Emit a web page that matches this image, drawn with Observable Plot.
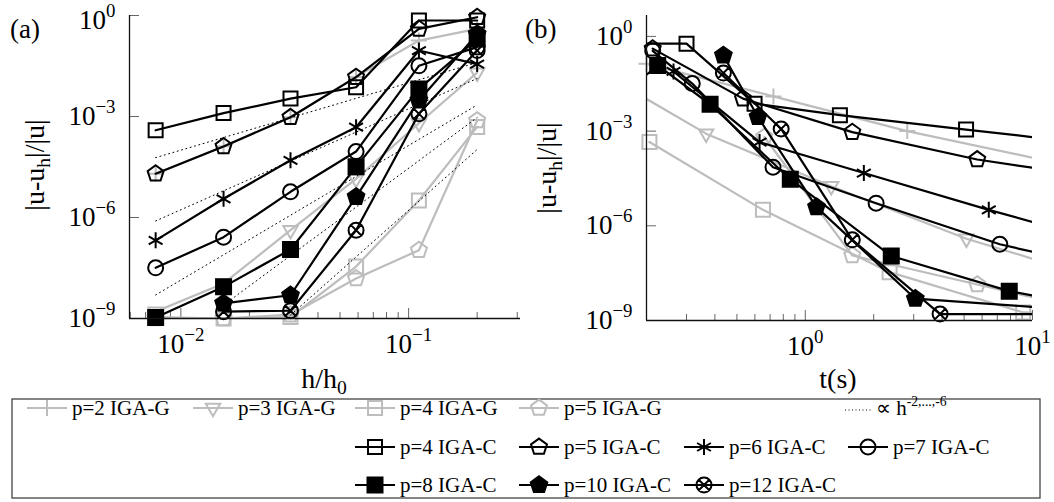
<!DOCTYPE html>
<html><head><meta charset="utf-8">
<script src="https://cdn.jsdelivr.net/npm/d3@7"></script>
<script src="https://cdn.jsdelivr.net/npm/@observablehq/plot@0.6"></script>
<style>
body{margin:0;background:#fff;}
#wrap{position:relative;width:1054px;height:502px;overflow:hidden;font-family:"Liberation Serif","Times New Roman",serif;background:#fff;}
#wrap svg{position:absolute;max-width:none;overflow:visible;}
#wrap svg text{font-family:"Liberation Serif","Times New Roman",serif;}
</style></head><body><div id="wrap"></div>
<script>
// ---------- data: panel (a), error vs h/h0 ----------
const hA   = [0.00775, 0.0154, 0.0303, 0.0588, 0.111, 0.2];
const hA2  = [0.0154, 0.0303, 0.0588, 0.111, 0.2];
const aG2  = [2.0e-5, 1.3e-4, 9.5e-4, 1.5e-2, 0.18, 0.40];
const aG3  = [1.6e-9, 1.1e-8, 4.2e-7, 1.4e-5, 6.3e-4, 0.02];
const aG4  = [1.1e-9, 1.0e-9, 1.1e-9, 3.5e-8, 3.2e-6, 4.9e-4];
const aG5  = [1.0e-9, 1.0e-9, 1.3e-9, 1.55e-8, 1.07e-7, 7.6e-4];
const aC4  = [3.9e-4, 1.26e-3, 3.4e-3, 7.4e-3, 0.71, 0.71];
const aC5  = [2.0e-5, 1.29e-4, 9.5e-4, 1.48e-2, 0.40, 0.89];
const aC6  = [2.1e-7, 3.6e-6, 5.0e-5, 4.8e-4, 0.091, 0.036];
const aC7  = [3.2e-8, 2.6e-7, 5.8e-6, 9.1e-5, 0.032, 0.115];
const aC8  = [1.07e-9, 8.7e-9, 1.12e-7, 3.2e-5, 6.6e-3, 0.20];
const aC10 = [2.8e-9, 4.9e-9, 4.1e-6, 3.0e-3, 0.28];
const aC12 = [1.6e-9, 1.7e-9, 4.2e-7, 1.2e-3, 0.091];
// reference slopes h^2..h^6 (start / end points)
const refH0 = [0.00775, 0.00775, 0.00775, 0.0154, 0.0303];
const refE0 = [6.0e-5, 7.9e-7, 5.0e-9, 2.5e-9, 1.26e-9];
const refH1 = [0.2, 0.2, 0.2, 0.2, 0.2];
const refE1 = [0.04, 0.0135, 2.2e-3, 9.3e-4, 1.05e-4];

// ---------- data: panel (b), error vs time ----------
const bG2t = [0.2, 0.724, 2.81, 20];           const bG2 = [0.135, 0.0126, 1.0e-3, 5.0e-5];
const bG3t = [0.15, 0.366, 1.30, 5.12, 20];    const bG3 = [0.035, 8.3e-4, 1.8e-5, 3.9e-7, 2.0e-8];
const bG4t = [0.206, 0.651, 2.35, 9.1, 20];    const bG4 = [4.5e-4, 3.2e-6, 3.4e-8, 1.8e-9, 1.6e-9];
const bG5t = [0.66, 1.61, 5.71, 20];           const bG5 = [6.5e-4, 1.15e-7, 1.38e-8, 1.7e-9];
const bC4t = [0.15, 0.30, 0.598, 1.42, 5.1, 18];   const bC4 = [0.59, 0.59, 7.4e-3, 3.2e-3, 1.12e-3, 4.0e-4];
const bC5t = [0.213, 0.532, 1.61, 5.71, 20];       const bC5 = [0.41, 0.0107, 9.3e-4, 1.26e-4, 3.3e-5];
const bC6t = [0.263, 0.629, 1.81, 6.42, 20];       const bC6 = [0.078, 4.5e-4, 4.7e-5, 3.2e-6, 3.3e-7];
const bC7t = [0.213, 0.318, 0.721, 2.05, 7.18, 20]; const bC7 = [0.35, 0.032, 7.2e-5, 5.2e-6, 2.6e-7, 4.7e-8];
const bC8t = [0.19, 0.224, 0.381, 0.859, 2.39, 7.9, 20]; const bC8 = [0.045, 0.12, 7.1e-3, 3.0e-5, 1.1e-7, 8.5e-9, 2.4e-9];
const bC10t = [0.436, 0.619, 1.12, 3.05, 20];      const bC10 = [0.25, 2.8e-3, 3.9e-6, 4.9e-9, 1.9e-9];
const bC12t = [0.436, 0.783, 1.61, 3.92, 20];      const bC12 = [0.069, 1.17e-3, 3.6e-7, 1.6e-9, 1.6e-9];

// ---------- ticks ----------
const aXMajor = [0.01, 0.1];
const aXMinor = [0.006, 0.007, 0.008, 0.009, 0.02, 0.03, 0.04, 0.05, 0.06, 0.07, 0.08, 0.09, 0.2, 0.3];
const bXMajor = [1, 10];
const bXMinor = [0.3, 0.4, 0.5, 0.6, 0.7, 0.8, 0.9, 2, 3, 4, 5, 6, 7, 8, 9];
const yMajor = [1, 1e-3, 1e-6, 1e-9];

// ---------- legend labels ----------
const namesG = ["p=2 IGA-G", "p=3 IGA-G", "p=4 IGA-G", "p=5 IGA-G"];
const namesC = ["p=4 IGA-C", "p=5 IGA-C", "p=6 IGA-C", "p=7 IGA-C", "p=8 IGA-C", "p=10 IGA-C", "p=12 IGA-C"];

// ---------- symbols ----------
const GREY = "#bdbdbd";
const FONT = '"Liberation Serif","Times New Roman",serif';
const R = s => Math.sqrt(s / Math.PI);
const symSquare = {draw(c, s){const r=R(s); c.moveTo(-r,-r); c.lineTo(r,-r); c.lineTo(r,r); c.lineTo(-r,r); c.closePath();}};
const symPent = {draw(c, s){const r=R(s)*1.12; for(let k=0;k<5;k++){const a=-Math.PI/2+k*2*Math.PI/5; k?c.lineTo(r*Math.cos(a),r*Math.sin(a)):c.moveTo(r*Math.cos(a),r*Math.sin(a));} c.closePath();}};
const symTriDown = {draw(c, s){const r=R(s)*1.15; for(let k=0;k<3;k++){const a=Math.PI/2+k*2*Math.PI/3; k?c.lineTo(r*Math.cos(a),r*Math.sin(a)):c.moveTo(r*Math.cos(a),r*Math.sin(a));} c.closePath();}};
const symPlus = {draw(c, s){const r=R(s); c.moveTo(-r,0); c.lineTo(r,0); c.moveTo(0,-r); c.lineTo(0,r);}};
const symAst = {draw(c, s){const r=R(s); for(let k=0;k<3;k++){const a=Math.PI/2+k*Math.PI/3; c.moveTo(-r*Math.cos(a),-r*Math.sin(a)); c.lineTo(r*Math.cos(a),r*Math.sin(a));}}};
const symCirc = {draw(c, s){const r=R(s); c.moveTo(r,0); c.arc(0,0,r,0,2*Math.PI);}};
const symOtimes = {draw(c, s){const r=R(s); c.moveTo(r,0); c.arc(0,0,r,0,2*Math.PI); const d=r*0.7071; c.moveTo(-d,-d); c.lineTo(d,d); c.moveTo(-d,d); c.lineTo(d,-d);}};

const styleG = [
  {sym: symPlus, r: 8, fill: "none"},
  {sym: symTriDown, r: 7.2, fill: "none"},
  {sym: symSquare, r: 7, fill: "none"},
  {sym: symPent, r: 7.5, fill: "none"}
].map(d => ({...d, color: GREY}));
const styleC = [
  {sym: symSquare, r: 7, fill: "none"},
  {sym: symPent, r: 7.5, fill: "none"},
  {sym: symAst, r: 8, fill: "none"},
  {sym: symCirc, r: 7.5, fill: "none"},
  {sym: symSquare, r: 7.5, fill: "#000"},
  {sym: symPent, r: 7.8, fill: "#000"},
  {sym: symOtimes, r: 7.5, fill: "none"}
].map(d => ({...d, color: "#000"}));

const rows = (xs, ys) => xs.map((x, i) => ({x, y: ys[i]}));
const fmt = d => "10|" + String(Math.round(Math.log10(d))).replace("-", "\u2212");

function makePanel(cfg) {
  const fw = cfg.width - cfg.ml - cfg.mr, fh = cfg.height - cfg.mt - cfg.mb;
  const [x0, x1] = cfg.xDomain, [y0, y1] = cfg.yDomain;
  const inside = d => d.x >= x0 * 0.999 && d.x <= x1 * 1.001 && d.y >= y0 * 0.999 && d.y <= y1;
  const marks = [];
  marks.push(Plot.tickX(cfg.xMinor, {x: d => d, insetTop: fh - 6, stroke: "#666", strokeWidth: 1}));
  marks.push(Plot.tickX(cfg.xMajor, {x: d => d, insetTop: fh - 10, stroke: "#666", strokeWidth: 1}));
  marks.push(Plot.tickY(yMajor, {y: d => d, insetRight: fw - 10, stroke: "#666", strokeWidth: 1}));
  const addSeries = s => {
    const data = rows(s.x, s.y);
    marks.push(Plot.line(data, {x: "x", y: "y", stroke: s.style.color, strokeWidth: 2.2, clip: true}));
    marks.push(Plot.dot(data.filter(inside), {x: "x", y: "y", symbol: s.style.sym, r: s.style.r,
      stroke: s.style.color, strokeWidth: 2, fill: s.style.fill}));
  };
  cfg.grey.forEach(addSeries);
  (cfg.refs || []).forEach(d => marks.push(Plot.line(d, {x: "x", y: "y", stroke: "#000", strokeWidth: 1, strokeDasharray: "1,3.5", clip: true})));
  cfg.black.forEach(addSeries);
  marks.push(Plot.ruleX([x0], {stroke: "#111", strokeWidth: 1.3}));
  marks.push(Plot.ruleY([y0], {stroke: "#111", strokeWidth: 1.3}));
  marks.push(Plot.axisX({ticks: cfg.xMajor, tickSize: 0, tickPadding: 15, tickFormat: fmt, label: null}));
  marks.push(Plot.axisY({ticks: yMajor, tickSize: 0, tickPadding: 14, tickFormat: fmt, label: null}));
  const svg = Plot.plot({
    width: cfg.width, height: cfg.height,
    marginLeft: cfg.ml, marginRight: cfg.mr, marginTop: cfg.mt, marginBottom: cfg.mb,
    x: {type: "log", domain: cfg.xDomain, label: null},
    y: {type: "log", domain: cfg.yDomain, label: null},
    style: {fontFamily: FONT, fontSize: "27px", background: "transparent", color: "#000"},
    marks
  });
  svg.style.left = cfg.left + "px";
  svg.style.top = "0px";
  const ns = "http://www.w3.org/2000/svg";
  // superscripts for tick labels
  svg.querySelectorAll("text").forEach(t => {
    if (!t.textContent.includes("|")) return;
    const [b, e] = t.textContent.split("|");
    t.textContent = "";
    const t1 = document.createElementNS(ns, "tspan"); t1.textContent = b; t.appendChild(t1);
    const t2 = document.createElementNS(ns, "tspan"); t2.textContent = e;
    t2.setAttribute("dy", "-12"); t2.setAttribute("font-size", "0.7em"); t.appendChild(t2);
  });
  const g = d3.select(svg);
  // push the topmost y tick label down slightly so it stays inside the picture
  g.selectAll('[aria-label="y-axis tick label"] text').each(function() {
    const tr = this.getAttribute("transform") || "";
    const m = /translate\(([^,]+),([^)]+)\)/.exec(tr);
    const yy = m ? +m[2] : +(this.getAttribute("y") || 0);
    if (yy < cfg.mt + 3 && cfg.shiftTop) this.setAttribute("dy", (parseFloat(this.getAttribute("dy")) || 0) + "");
  });
  // y label
  const yl = g.append("text").attr("transform", `translate(${cfg.ylx},${cfg.yly}) rotate(-90)`)
    .attr("text-anchor", "middle").attr("font-size", 28);
  yl.append("tspan").text("|u-u");
  yl.append("tspan").attr("font-size", "0.7em").attr("dy", 6).text("h");
  yl.append("tspan").attr("dy", -6).text("|/|u|");
  // x label
  const xl = g.append("text").attr("x", cfg.xlx).attr("y", 388).attr("text-anchor", "middle").attr("font-size", 28);
  cfg.xlabel(xl);
  // panel letter
  g.append("text").attr("x", cfg.lx).attr("y", 38).attr("text-anchor", "start").attr("font-size", 27).text(cfg.letter);
  return svg;
}

const wrap = document.getElementById("wrap");
const ser = (xs, ys, style) => ({x: xs, y: ys, style});

const svgA = makePanel({
  left: 0, width: 525, height: 395, ml: 129, mr: 5, mt: 15, mb: 77,
  xDomain: [0.00595, 0.31], yDomain: [1e-9, 1],
  xMajor: aXMajor, xMinor: aXMinor,
  grey: [ser(hA, aG2, styleG[0]), ser(hA, aG3, styleG[1]), ser(hA, aG4, styleG[2]), ser(hA, aG5, styleG[3])],
  refs: refH0.map((h, i) => [{x: h, y: refE0[i]}, {x: refH1[i], y: refE1[i]}]),
  black: [ser(hA, aC4, styleC[0]), ser(hA, aC5, styleC[1]), ser(hA, aC6, styleC[2]), ser(hA, aC7, styleC[3]),
          ser(hA, aC8, styleC[4]), ser(hA2, aC10, styleC[5]), ser(hA2, aC12, styleC[6])],
  ylx: 44, yly: 165, xlx: 324, lx: 10, letter: "(a)",
  xlabel: t => { t.append("tspan").text("h/h"); t.append("tspan").attr("font-size", "0.7em").attr("dy", 6).text("0"); }
});
// topmost tick label of panel (a): move down a few pixels as in the reference
d3.select(svgA).selectAll('[aria-label="y-axis tick label"] text').each(function() {
  if (this.textContent === "100") d3.select(this).attr("transform", (this.getAttribute("transform") || "") + " translate(0,5)");
});
wrap.appendChild(svgA);

wrap.appendChild(makePanel({
  left: 525, width: 529, height: 395, ml: 121, mr: 22, mt: 15, mb: 75,
  xDomain: [0.2, 10], yDomain: [1e-9, 4.6],
  xMajor: bXMajor, xMinor: bXMinor,
  grey: [ser(bG2t, bG2, styleG[0]), ser(bG3t, bG3, styleG[1]), ser(bG4t, bG4, styleG[2]), ser(bG5t, bG5, styleG[3])],
  refs: [],
  black: [ser(bC4t, bC4, styleC[0]), ser(bC5t, bC5, styleC[1]), ser(bC6t, bC6, styleC[2]), ser(bC7t, bC7, styleC[3]),
          ser(bC8t, bC8, styleC[4]), ser(bC10t, bC10, styleC[5]), ser(bC12t, bC12, styleC[6])],
  ylx: 31, yly: 168, xlx: 313, lx: 0, letter: "(b)",
  xlabel: t => { t.append("tspan").text("t(s)"); }
}));

// ---------- legend ----------
const leg = d3.create("svg").attr("width", 1054).attr("height", 107)
  .style("left", "0px").style("top", "395px")
  .attr("font-family", FONT).attr("font-size", 21);
leg.append("rect").attr("x", 12).attr("y", 4).attr("width", 1028).attr("height", 99)
  .attr("fill", "none").attr("stroke", "#444").attr("stroke-width", 1.3);
const colX = [27, 193, 355, 519, 684, 848];
const rowY = [13, 52, 90];
const entries = [
  ...namesG.map((n, i) => ({n, st: styleG[i], c: i, r: 0})),
  ...namesC.map((n, i) => ({n, st: styleC[i], c: i < 4 ? 2 + i : 2 + i - 4, r: i < 4 ? 1 : 2}))
];
entries.forEach(e => {
  const x = colX[e.c], y = rowY[e.r];
  leg.append("line").attr("x1", x).attr("x2", x + 40).attr("y1", y).attr("y2", y)
    .attr("stroke", e.st.color).attr("stroke-width", 2.2);
  leg.append("path").attr("transform", `translate(${x + 20},${y})`)
    .attr("d", d3.symbol().type(e.st.sym).size(Math.PI * e.st.r * e.st.r)())
    .attr("stroke", e.st.color).attr("stroke-width", 2).attr("fill", e.st.fill);
  leg.append("text").attr("x", x + 45).attr("y", y + 7).text(e.n);
});
leg.append("line").attr("x1", 845).attr("x2", 872).attr("y1", rowY[0] + 2).attr("y2", rowY[0] + 2)
  .attr("stroke", "#000").attr("stroke-width", 1).attr("stroke-dasharray", "1,2.5");
const lt = leg.append("text").attr("x", 876).attr("y", rowY[0] + 7);
lt.append("tspan").text("\u221D h");
lt.append("tspan").attr("font-size", "0.65em").attr("dy", -9).text("-2,...,-6");
wrap.appendChild(leg.node());
</script></body></html>
